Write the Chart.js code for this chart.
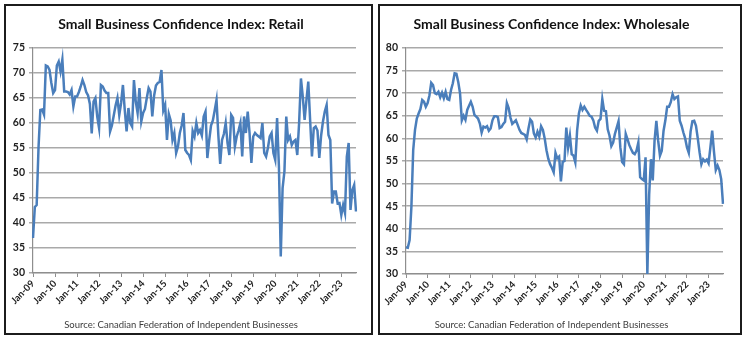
<!DOCTYPE html>
<html>
<head>
<meta charset="utf-8">
<script src="https://cdn.jsdelivr.net/npm/chart.js@4.4.1/dist/chart.umd.min.js"></script>
<style>
  html, body { margin: 0; padding: 0; background: #fff; }
  body { width: 748px; height: 342px; position: relative; overflow: hidden; }
  .panel { position: absolute; top: 4px; height: 327px; border: 2px solid #1c1c1c; background: #fff; }
  #retailPanel { left: 4px; width: 365px; }
  #wholesalePanel { left: 378px; width: 360px; }
  canvas { display: block; }
</style>
</head>
<body>
<div class="panel" id="retailPanel"><canvas id="retailChart" width="365" height="327"></canvas></div>
<div class="panel" id="wholesalePanel"><canvas id="wholesaleChart" width="360" height="327"></canvas></div>

<script>
// --- data (monthly, Jan-09 .. Sep-23) ---
const YEARS = ['09','10','11','12','13','14','15','16','17','18','19','20','21','22','23'];
const MONTHS = ['Jan','Feb','Mar','Apr','May','Jun','Jul','Aug','Sep','Oct','Nov','Dec'];
const LAST_MONTH_2023 = 9; // data runs through Sep-23

const RETAIL_VALUES = [
  37, 43.2, 43.6, 55, 62.6, 62.7, 61.7, 71.5, 71.3, 70.6, 68, 66,            // 2009
  66.6, 71.5, 72.3, 70.3, 72.7, 66.3, 66.3, 66.2, 65.7, 66.6, 63.3, 65.3,    // 2010
  65.3, 66.2, 67.3, 68.6, 67.6, 66.2, 65.5, 63.8, 57.9, 64.3, 65, 61.3,      // 2011
  59, 67.6, 67.3, 66.5, 66, 66, 58.3, 59.5, 61.5, 63.5, 65, 61.6,            // 2012
  64, 67.6, 62.6, 58.3, 63, 60, 59.3, 68.6, 64.3, 62, 67, 60.3,              // 2013
  62, 62.8, 65, 67, 66.3, 61.3, 65.5, 67.5, 68, 68.2, 70.6, 62.5,            // 2014
  63.6, 56.6, 61.8, 60.5, 56.6, 58, 54, 55.3, 58, 59.5, 62, 54.6,            // 2015
  54, 53.6, 52.6, 58.4, 57.3, 60, 58, 58.6, 57.5, 61.3, 62.3, 53,            // 2016
  56.5, 59.5, 60.5, 62.5, 64.6, 57.5, 51.8, 56.6, 57.8, 60, 56, 53.6,        // 2017
  61.6, 61, 55.3, 57.3, 58.5, 60, 53.3, 61.3, 58, 62.3, 58, 52,              // 2018
  57.3, 58, 57.6, 57.3, 57, 60, 54, 53.3, 55, 57.3, 58, 54,                  // 2019
  52.6, 61, 51.3, 33.3, 47, 50.3, 61.3, 56.6, 57.3, 55.6, 56.3, 56.6,        // 2020
  53.6, 60, 68.9, 65.3, 60.6, 64.6, 68.3, 60.6, 53.3, 59, 59.3, 58.5,        // 2021
  53, 57.5, 60.3, 62.3, 63.6, 57.6, 56.6, 43.9, 46.3, 46.3, 43.9, 44,        // 2022
  41.6, 43.6, 42, 53.3, 56, 42.6, 46.6, 47.6, 42.3                           // 2023
];

const WHOLESALE_VALUES = [
  35.9, 35.8, 37.5, 44.9, 57.4, 61.9, 64.4, 65.5, 66.5, 68.5, 68.1, 67,      // 2009
  67.8, 69.5, 72.3, 71.8, 70, 69.8, 70.3, 69.1, 70.1, 68.9, 70.3, 68.7,      // 2010
  68.5, 70.7, 72.2, 74.4, 74.3, 72.5, 70, 64, 65, 64.1, 66.3, 67.2,          // 2011
  68.1, 67, 65.2, 64.8, 64.4, 63.3, 61.3, 62.6, 62.4, 62.7, 61.7, 62.2,      // 2012
  64, 64.9, 64.9, 64.7, 62.3, 62.5, 63.2, 63.7, 67.8, 66.7, 64.6, 63.2,      // 2013
  63.6, 64, 63, 61.9, 61.2, 61, 60.8, 59.8, 62.2, 64.2, 63.7, 61.1,          // 2014
  60.2, 61.5, 60.4, 62.7, 61.9, 60, 57.4, 55.5, 54.3, 53.5, 52.5, 56.8,      // 2015
  55.6, 56, 50.5, 54.8, 55, 62.4, 58, 60.6, 56.5, 56.2, 54.7, 61.7,          // 2016
  65.5, 67.3, 66.3, 67, 66.3, 65.7, 65, 64.8, 64, 62.4, 61.7, 63.9,          // 2017
  64.3, 68.7, 66.1, 66, 62, 60.6, 58.3, 59.1, 61, 62.4, 63.8, 58,            // 2018
  54.8, 54.3, 61, 59.8, 58.5, 57.6, 56.8, 56.5, 57.3, 59.1, 51.4, 51,        // 2019
  50.7, 55.8, 30, 47.5, 55.4, 50.7, 59.5, 63.9, 59.5, 56.2, 57.3, 61.7,      // 2020
  64, 67, 67, 68, 69.8, 68.7, 69.1, 69.3, 63.9, 62.8, 61.3, 60,              // 2021
  58, 56.8, 61.5, 63.8, 63.9, 62.8, 60, 56.9, 54.3, 55.4, 54.9, 55.3,        // 2022
  54.5, 58, 61.7, 57, 53, 54, 53, 51, 45.5                                   // 2023
];

const RETAIL_Y = { min: 30, max: 75, step: 5 };
const WHOLESALE_Y = { min: 30, max: 80, step: 5 };

const SOURCE_NOTE = 'Source: Canadian Federation of Independent Businesses';

// month categories, e.g. "Jan-09"
const MONTH_LABELS = [];
YEARS.forEach((yy, yi) => {
    const count = (yi === YEARS.length - 1) ? LAST_MONTH_2023 : 12;
    for (let m = 0; m < count; m++) MONTH_LABELS.push(MONTHS[m] + '-' + yy);
});

const LINE_BLUE = '#4a7ebb';
const GRID_GREY = '#a9a9a9';
const AXIS_GREY = '#8e8e8e';
const FONT = 'Lato, "Open Sans", sans-serif';

/**
 * Builds one Excel-style line chart panel.
 */
function buildPanel(canvasId, title, values, yRange, layout) {
    const ctx = document.getElementById(canvasId).getContext('2d');
    return new Chart(ctx, {
        type: 'line',
        data: {
            labels: MONTH_LABELS,
            datasets: [{
                data: values,
                borderColor: LINE_BLUE,
                borderWidth: 2.5,
                pointRadius: 0,
                tension: 0,
                fill: false
            }]
        },
        options: {
            responsive: false,
            animation: false,
            devicePixelRatio: 1,
            layout: { padding: { left: 0, right: layout.padRight, top: 0, bottom: 0 } },
            plugins: {
                legend: { display: false },
                tooltip: { enabled: false },
                title: {
                    display: true,
                    text: title,
                    color: '#111',
                    font: { family: FONT, size: 14, weight: 'bold' },
                    padding: { top: 10, bottom: 15.2 }
                },
                subtitle: {
                    display: true,
                    position: 'bottom',
                    text: SOURCE_NOTE,
                    color: '#3c3c3c',
                    font: { family: FONT, size: 9.5, weight: 'normal' },
                    padding: { top: 4, bottom: 2 }
                }
            },
            scales: {
                x: {
                    type: 'category',
                    offset: false,
                    afterFit: s => { s.height = layout.xHeight; },
                    grid: { display: true, drawOnChartArea: false, drawTicks: true, tickLength: 4, color: AXIS_GREY, lineWidth: 1 },
                    border: { display: true, color: AXIS_GREY, width: 1.2 },
                    ticks: {
                        autoSkip: false,
                        maxRotation: 45,
                        minRotation: 45,
                        padding: 1,
                        color: '#1e1e1e',
                        font: { family: FONT, size: 9.5, weight: 'bold' },
                        callback: function (value) {
                            const lab = this.getLabelForValue(value);
                            return lab.startsWith('Jan') ? lab : null;
                        }
                    }
                },
                y: {
                    min: yRange.min,
                    max: yRange.max,
                    afterFit: s => { s.width = layout.yWidth; },
                    grid: { color: GRID_GREY, lineWidth: 1.5, tickLength: 4, drawTicks: true },
                    border: { display: true, color: AXIS_GREY, width: 1.2 },
                    ticks: {
                        stepSize: yRange.step,
                        padding: 4,
                        color: '#1e1e1e',
                        font: { family: FONT, size: 10.5, weight: 'bold' }
                    }
                }
            }
        }
    });
}

buildPanel('retailChart', 'Small Business Confidence Index: Retail', RETAIL_VALUES, RETAIL_Y,
    { padRight: 15, yWidth: 27, xHeight: 42.6 });
buildPanel('wholesaleChart', 'Small Business Confidence Index: Wholesale', WHOLESALE_VALUES, WHOLESALE_Y,
    { padRight: 17, yWidth: 26, xHeight: 41.6 });
</script>
</body>
</html>
